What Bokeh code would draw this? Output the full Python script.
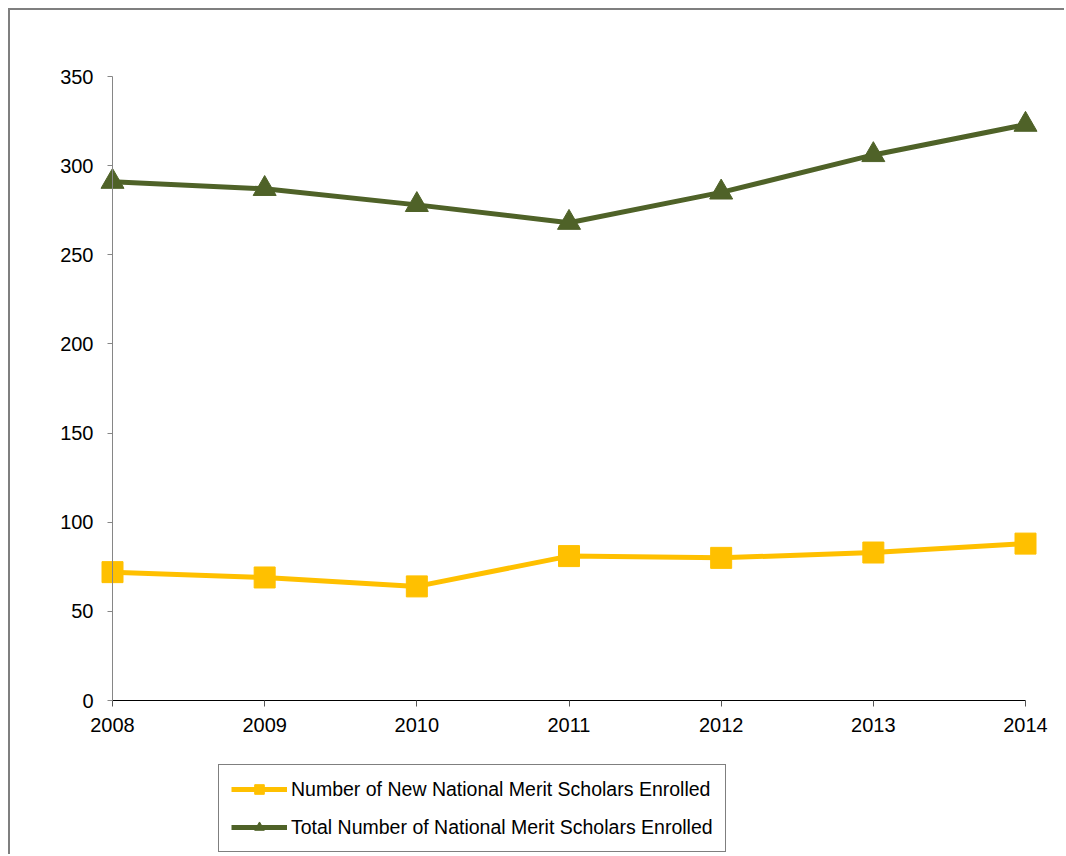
from bokeh.plotting import figure
from bokeh.models import Legend, LegendItem, FixedTicker, Range1d
from bokeh.embed import file_html
from bokeh.resources import INLINE

years = [2008, 2009, 2010, 2011, 2012, 2013, 2014]
new_scholars = [72, 69, 64, 81, 80, 83, 88]
total_scholars = [291, 287, 278, 268, 285, 306, 323]
y_ticks = [0, 50, 100, 150, 200, 250, 300, 350]
label_new = "Number of New National Merit Scholars Enrolled"
label_total = "Total Number of National Merit Scholars Enrolled"

FONT = "Liberation Sans"

# layout (pixels): canvas spans page x 10..1066, y 10..856
W, H = 1056, 846
PLOT_L, PLOT_R, PLOT_T, PLOT_B = 102, 1015, 66, 690   # in canvas px
x0, x1 = years[0], years[-1]
y0, y1 = 0, 350
xs = (x1 - x0) / (PLOT_R - PLOT_L)
ys = (y1 - y0) / (PLOT_B - PLOT_T)
x_range = Range1d(x0 - PLOT_L * xs, x1 + (W - PLOT_R) * xs)
y_range = Range1d(y0 - (H - PLOT_B) * ys, y1 + PLOT_T * ys)

p = figure(width=W, height=H, output_backend="svg", toolbar_location=None,
           x_range=x_range, y_range=y_range,
           min_border_left=0, min_border_top=0, min_border_right=0, min_border_bottom=0)
p.styles = {"margin-left": "8px", "margin-top": "8px",
            "border-left": "2px solid #7f7f7f", "border-top": "2px solid #7f7f7f"}
p.outline_line_color = None
p.grid.grid_line_color = None
p.background_fill_color = "white"
p.border_fill_color = "white"

green = "#4F6228"
yellow = "#FFC000"

l_new = p.line(years, new_scholars, line_color=yellow, line_width=5)
m_new = p.scatter(years, new_scholars, marker="square", size=21, fill_color=yellow, line_color=yellow)
l_tot = p.line(years, total_scholars, line_color=green, line_width=5)
m_tot = p.scatter(years, total_scholars, marker="triangle", size=23, fill_color=green, line_color=green)

p.xaxis.fixed_location = y0
p.yaxis.fixed_location = x0
p.xaxis.bounds = (x0, x1)
p.yaxis.bounds = (y0, y1)
p.xaxis.ticker = FixedTicker(ticks=years)
p.yaxis.ticker = FixedTicker(ticks=y_ticks)
p.xaxis.minor_tick_line_color = None
p.yaxis.minor_tick_line_color = None
p.xaxis.axis_line_color = "black"
p.xaxis.major_tick_line_color = "#555555"
p.yaxis.axis_line_color = "#868686"
p.yaxis.major_tick_line_color = "#868686"
p.xaxis.major_tick_in = 0
p.xaxis.major_tick_out = 6
p.yaxis.major_tick_in = 0
p.yaxis.major_tick_out = 5
for ax in (p.xaxis, p.yaxis):
    ax.major_label_text_font = FONT
    ax.major_label_text_font_size = "20px"
    ax.major_label_text_color = "black"
p.xaxis.major_label_standoff = 11
p.yaxis.major_label_standoff = 14

legend = Legend(items=[LegendItem(label=label_new, renderers=[l_new, m_new]),
                       LegendItem(label=label_total, renderers=[l_tot, m_tot])],
                location=(208, 4))
legend.label_text_font = FONT
legend.label_text_font_size = "19.5px"
legend.label_text_color = "black"
legend.border_line_color = "black"
legend.border_line_width = 1
legend.padding = 12
legend.spacing = 14
legend.margin = 0
legend.glyph_width = 56
legend.glyph_height = 24
legend.label_height = 24
legend.label_standoff = 4
legend.background_fill_alpha = 1
p.add_layout(legend)

open("out.html", "w").write(file_html(p, INLINE))
